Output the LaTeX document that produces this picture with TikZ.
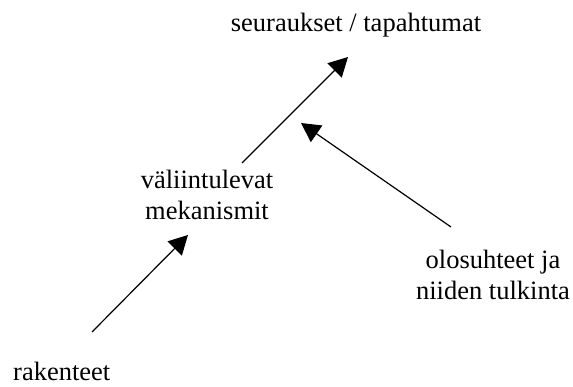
\documentclass[tikz,border=0pt]{standalone}
\usepackage{fontspec}
\setmainfont{Liberation Serif}
\usetikzlibrary{arrows.meta}
\begin{document}
\begin{tikzpicture}[x=1pt,y=1pt,
  lbl/.style={font=\fontsize{26.5}{31}\selectfont, align=center, inner sep=0pt, anchor=base},
  conn/.style={line width=1.2pt, -{Triangle[length=19pt,width=20pt]}}]
\useasboundingbox (0,0) rectangle (573,387);
\node[lbl] (seur) at (356,355) {seuraukset / tapahtumat};
\node[lbl] (vali) at (207,167) {väliintulevat\\mekanismit};
\node[lbl] (olos) at (493,87) {olosuhteet ja\\niiden tulkinta};
\node[lbl, anchor=base west] (rak) at (13,6) {rakenteet};
\coordinate (a1s) at (242,224);
\coordinate (a1e) at (348,330);
\coordinate (a2s) at (92,55);
\coordinate (a2e) at (188,152);
\coordinate (a3s) at (451,160);
\coordinate (a3e) at (301,264);
\draw[conn] (a1s) -- (a1e);
\draw[conn] (a2s) -- (a2e);
\draw[conn] (a3s) -- (a3e);
\end{tikzpicture}
\end{document}
